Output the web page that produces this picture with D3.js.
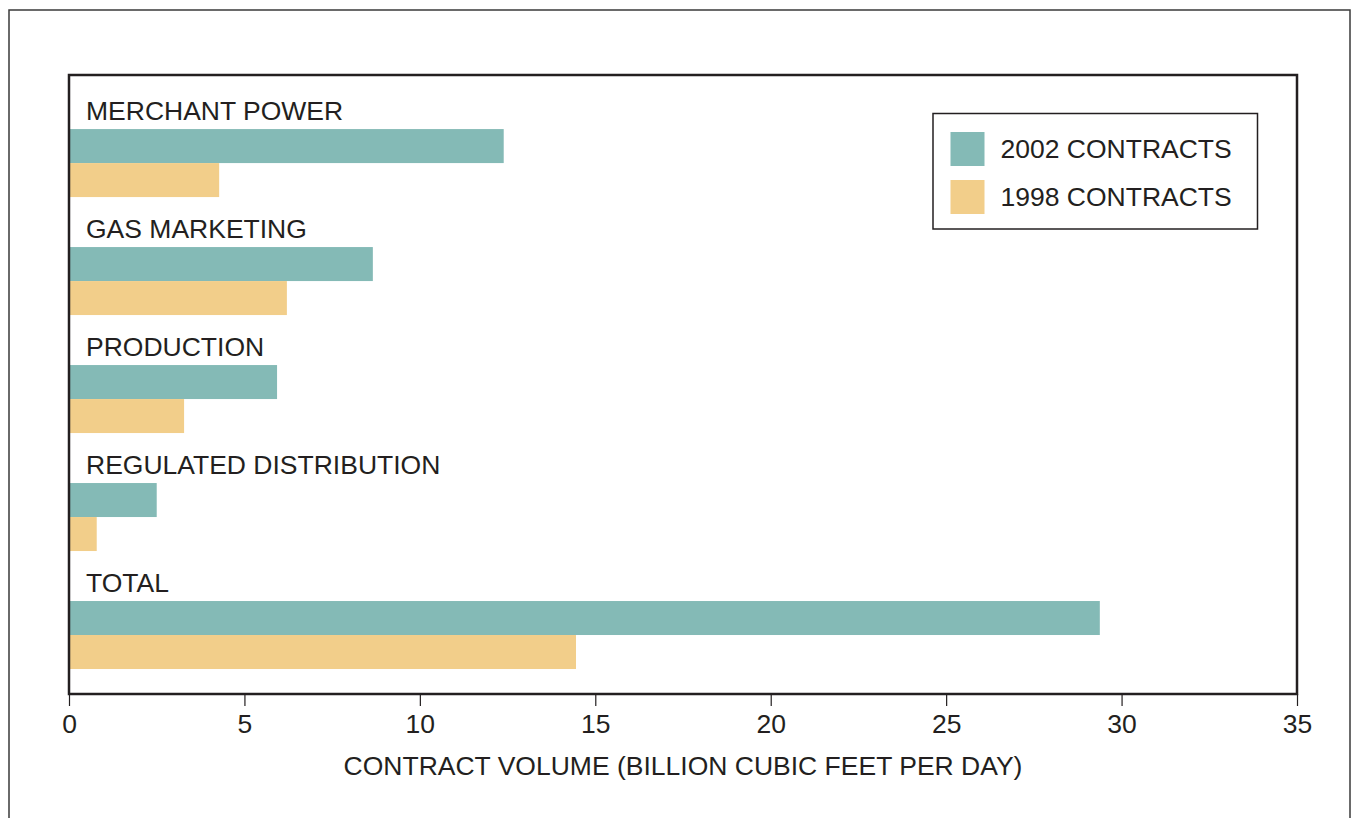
<!DOCTYPE html>
<html>
<head>
<meta charset="utf-8">
<script src="https://cdn.jsdelivr.net/npm/d3@7"></script>
<style>
  html, body { margin: 0; padding: 0; background: #fff; }
  svg { display: block; }
  text { font-family: "Liberation Sans", Arial, Helvetica, sans-serif; fill: #231f20; }
</style>
</head>
<body>
<svg id="chart" width="1351" height="818"></svg>
<script>
// Contract volume by business segment (billion cubic feet per day)
const categories = ["MERCHANT POWER", "GAS MARKETING", "PRODUCTION", "REGULATED DISTRIBUTION", "TOTAL"];
const seriesNames = ["2002 CONTRACTS", "1998 CONTRACTS"];
const contracts2002 = [12.39, 8.66, 5.93, 2.50, 29.38];
const contracts1998 = [4.28, 6.21, 3.28, 0.79, 14.45];
const xTicks = [0, 5, 10, 15, 20, 25, 30, 35];
const xTitle = "CONTRACT VOLUME (BILLION CUBIC FEET PER DAY)";

const colors = { "2002 CONTRACTS": "#84bab6", "1998 CONTRACTS": "#f2ce8a" };
const fontSize = 26.5;

const rows = categories.map((c, i) => ({
  category: c,
  values: [
    { series: seriesNames[0], value: contracts2002[i] },
    { series: seriesNames[1], value: contracts1998[i] }
  ]
}));

const svg = d3.select("#chart");
const plot = { left: 69, right: 1297, top: 75, bottom: 694 };

// outer page frame
svg.append("rect")
  .attr("x", 9).attr("y", 10)
  .attr("width", 1341).attr("height", 830)
  .attr("fill", "none").attr("stroke", "#3a3a3a").attr("stroke-width", 1.5);

const x = d3.scaleLinear().domain([0, 35]).range([plot.left, plot.right]);

const y = d3.scaleBand()
  .domain(categories)
  .range([plot.top, plot.bottom])
  .paddingInner(0.4237)
  .paddingOuter(0.335)
  .align(0.684);

const yInner = d3.scaleBand()
  .domain(seriesNames)
  .range([0, y.bandwidth()]);

// bars
const groups = svg.append("g").selectAll("g")
  .data(rows)
  .join("g")
  .attr("transform", d => `translate(0,${y(d.category)})`);

groups.selectAll("rect")
  .data(d => d.values)
  .join("rect")
  .attr("x", x(0))
  .attr("y", d => yInner(d.series))
  .attr("width", d => x(d.value) - x(0))
  .attr("height", yInner.bandwidth())
  .attr("fill", d => colors[d.series]);

// category labels above each group
groups.append("text")
  .attr("x", 86)
  .attr("y", -9)
  .attr("font-size", fontSize)
  .text(d => d.category);

// x axis
const xAxis = d3.axisBottom(x)
  .tickValues(xTicks)
  .tickSize(12)
  .tickPadding(8)
  .tickFormat(d3.format("d"));

const axisG = svg.append("g")
  .attr("transform", `translate(0,${plot.bottom})`)
  .call(xAxis);
axisG.select(".domain").remove();
axisG.selectAll(".tick line").attr("stroke", "#231f20").attr("stroke-width", 1.2);
axisG.selectAll(".tick text")
  .attr("font-size", fontSize)
  .attr("font-family", "'Liberation Sans', Arial, sans-serif")
  .attr("fill", "#231f20");

// plot frame
svg.append("rect")
  .attr("x", plot.left).attr("y", plot.top)
  .attr("width", plot.right - plot.left).attr("height", plot.bottom - plot.top)
  .attr("fill", "none").attr("stroke", "#231f20").attr("stroke-width", 2.5);

// axis title
svg.append("text")
  .attr("x", (plot.left + plot.right) / 2)
  .attr("y", 775)
  .attr("text-anchor", "middle")
  .attr("font-size", fontSize)
  .text(xTitle);

// legend
const legend = svg.append("g");
legend.append("rect")
  .attr("x", 933).attr("y", 113.5)
  .attr("width", 324.5).attr("height", 115.5)
  .attr("fill", "#fff").attr("stroke", "#231f20").attr("stroke-width", 1.5);

const legendItems = legend.selectAll("g.item")
  .data(seriesNames)
  .join("g")
  .attr("class", "item")
  .attr("transform", (d, i) => `translate(950.5,${132 + i * 48})`);

legendItems.append("rect")
  .attr("width", 34).attr("height", 34)
  .attr("fill", d => colors[d]);

legendItems.append("text")
  .attr("x", 50)
  .attr("y", 26)
  .attr("font-size", fontSize)
  .text(d => d);
</script>
</body>
</html>
